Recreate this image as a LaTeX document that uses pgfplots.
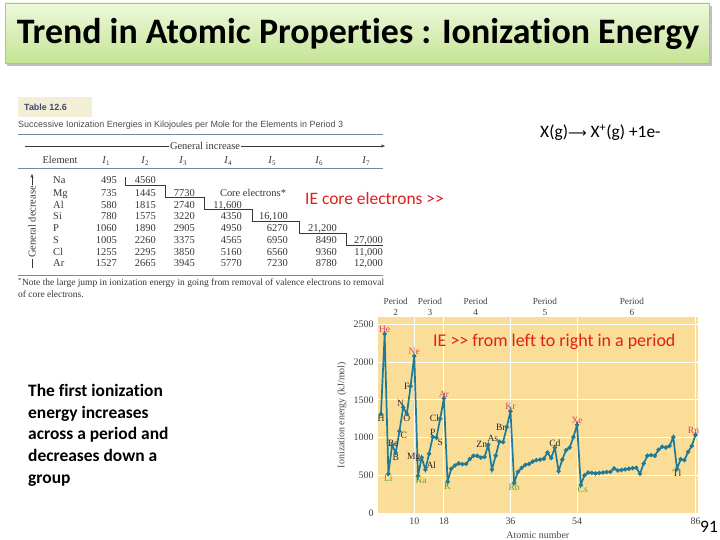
\documentclass[border=0pt]{standalone}
\usepackage{fontspec}
\setmainfont{Carlito}[Ligatures={NoCommon}]
\newfontfamily\serif{Liberation Serif}
\newfontfamily\sansf{Liberation Sans}
\newfontfamily\dejavu{DejaVu Sans}
\usepackage{pgfplots}
\usepackage{pgfplotstable}
\pgfplotsset{compat=1.18}
\usetikzlibrary{arrows.meta}
\definecolor{ieline}{RGB}{30,122,150}
\definecolor{chartbg}{RGB}{250,222,152}
\definecolor{noble}{RGB}{215,70,95}
\definecolor{alkali}{RGB}{110,160,50}
\definecolor{iered}{RGB}{225,30,25}
\definecolor{rulec}{RGB}{120,135,165}
\definecolor{tabtext}{RGB}{55,55,55}
\definecolor{tabhead}{RGB}{60,75,110}
\definecolor{tabbox}{RGB}{243,239,215}
\definecolor{titletop}{RGB}{238,248,220}
\definecolor{titlebot}{RGB}{196,228,148}

\pgfplotstableread{
Z IE
1 1312
2 2372
3 520
4 900
5 801
6 1086
7 1402
8 1314
9 1681
10 2081
11 496
12 738
13 578
14 787
15 1012
16 1000
17 1251
18 1521
19 419
20 590
21 633
22 659
23 651
24 653
25 717
26 762
27 760
28 737
29 745
30 906
31 579
32 762
33 947
34 941
35 1140
36 1351
37 403
38 549
39 600
40 640
41 652
42 684
43 702
44 710
45 720
46 804
47 731
48 868
49 558
50 709
51 834
52 869
53 1008
54 1170
55 376
56 503
57 538
58 534
59 527
60 533
61 540
62 545
63 547
64 593
65 566
66 573
67 581
68 589
69 597
70 603
71 524
72 659
73 761
74 770
75 760
76 840
77 880
78 870
79 890
80 1007
81 589
82 716
83 703
84 812
85 890
86 1037
}\iedata

\begin{document}
\begin{tikzpicture}[x=1bp,y=1bp]
\path[use as bounding box, fill=white] (0,0) rectangle (720,540);

% ---- title banner ----
\fill[black!25] (7,474) rectangle (712,534);
\shade[top color=titletop, bottom color=titlebot, draw=green!30!gray!60, line width=0.6bp] (5,477) rectangle (709,537);
\node at (358,506) {\fontsize{36}{42}\selectfont\bfseries Trend in Atomic Properties : Ionization Energy};

% ---- table ----
\node[fill=tabbox, minimum width=74bp, minimum height=20bp, anchor=north west, inner sep=0] at (18,443) {};
\node[anchor=west, inner sep=0, text=tabhead] at (24,432.5) {\sansf\bfseries\fontsize{9}{10}\selectfont Table 12.6};
\node[anchor=west, inner sep=0, text=black!70] at (18,415) {\sansf\fontsize{9}{10}\selectfont Successive Ionization Energies in Kilojoules per Mole for the Elements in Period 3};
\draw[rulec, line width=0.8bp] (18,406) -- (383,406);
\draw[tabtext, line width=0.5bp, -{Stealth[length=4bp,width=3bp]}] (25,394) -- (385,394);
\node[fill=white, inner sep=1bp, text=tabtext] at (205,394) {\serif\fontsize{10.5}{12}\selectfont General increase};
\begin{scope}[every node/.style={text=tabtext, inner sep=0, font=\serif\fontsize{10.5}{12}\selectfont}]
\node[anchor=base] at (60,376.5) {Element};
\foreach \x/\n in {106/1,145/2,183/3,228/4,272/5,319/6,366/7}
  \node[anchor=base] at (\x,376.5) {\textit{I}\raisebox{-0.35ex}{\fontsize{7}{8}\selectfont\n}};
\end{scope}
\draw[rulec, line width=1bp] (18,371) -- (383,371);
\begin{scope}[every node/.style={text=tabtext, inner sep=0, font=\serif\fontsize{10.5}{12}\selectfont}]
\foreach \y/\el in {356.3/Na,343.8/Mg,331.8/Al,320.3/Si,308.3/P,296.3/S,284.8/Cl,273.3/Ar}
  \node[anchor=base west] at (53,\y) {\el};
\node[anchor=base east] at (117,356.3) {495};
\node[anchor=base east] at (156,356.3) {4560};
\node[anchor=base east] at (117,343.8) {735};
\node[anchor=base east] at (156,343.8) {1445};
\node[anchor=base east] at (195,343.8) {7730};
\node[anchor=base] at (253,343.8) {Core electrons*};
\node[anchor=base east] at (117,331.8) {580};
\node[anchor=base east] at (156,331.8) {1815};
\node[anchor=base east] at (195,331.8) {2740};
\node[anchor=base east] at (242,331.8) {11,600};
\node[anchor=base east] at (117,320.3) {780};
\node[anchor=base east] at (156,320.3) {1575};
\node[anchor=base east] at (195,320.3) {3220};
\node[anchor=base east] at (242,320.3) {4350};
\node[anchor=base east] at (288,320.3) {16,100};
\node[anchor=base east] at (117,308.3) {1060};
\node[anchor=base east] at (156,308.3) {1890};
\node[anchor=base east] at (195,308.3) {2905};
\node[anchor=base east] at (242,308.3) {4950};
\node[anchor=base east] at (288,308.3) {6270};
\node[anchor=base east] at (337,308.3) {21,200};
\node[anchor=base east] at (117,296.3) {1005};
\node[anchor=base east] at (156,296.3) {2260};
\node[anchor=base east] at (195,296.3) {3375};
\node[anchor=base east] at (242,296.3) {4565};
\node[anchor=base east] at (288,296.3) {6950};
\node[anchor=base east] at (337,296.3) {8490};
\node[anchor=base east] at (383,296.3) {27,000};
\node[anchor=base east] at (117,284.8) {1255};
\node[anchor=base east] at (156,284.8) {2295};
\node[anchor=base east] at (195,284.8) {3850};
\node[anchor=base east] at (242,284.8) {5160};
\node[anchor=base east] at (288,284.8) {6560};
\node[anchor=base east] at (337,284.8) {9360};
\node[anchor=base east] at (383,284.8) {11,000};
\node[anchor=base east] at (117,273.3) {1527};
\node[anchor=base east] at (156,273.3) {2665};
\node[anchor=base east] at (195,273.3) {3945};
\node[anchor=base east] at (242,273.3) {5770};
\node[anchor=base east] at (288,273.3) {7230};
\node[anchor=base east] at (337,273.3) {8780};
\node[anchor=base east] at (383,273.3) {12,000};
\end{scope}
\draw[tabtext, line width=0.6bp] (125.7,363) -- (125.7,355) -- (165.7,355) -- (165.7,342.7) -- (204,342.7) -- (204,330.7) -- (252,330.7) -- (252,318.3) -- (299,318.3) -- (299,306.7) -- (346.7,306.7) -- (346.7,295) -- (383,295);
\draw[rulec, line width=0.8bp] (18,265) -- (383,265);
\node[anchor=base west, inner sep=0, text=tabtext] at (18,254) {\serif\fontsize{9.5}{10}\selectfont\textsuperscript{*}Note the large jump in ionization energy in going from removal of valence electrons to removal};
\node[anchor=base west, inner sep=0, text=tabtext] at (18,242.3) {\serif\fontsize{9.5}{10}\selectfont of core electrons.};
\draw[tabtext, line width=0.5bp, -{Stealth[length=4bp,width=3bp]}] (32,272) -- (32,366);
\node[fill=white, inner sep=1bp, rotate=90, text=tabtext] at (32,318) {\serif\fontsize{10.5}{12}\selectfont General decrease};

% ---- slide texts ----
\node[anchor=west, inner sep=0, text=iered] at (305,341) {\fontsize{17.5}{20}\selectfont IE core electrons {>}{>}};
\node[anchor=west, inner sep=0] at (540,407) {\fontsize{17.5}{20}\selectfont X(g){\dejavu\fontsize{13}{14}\selectfont ⟶} X\textsuperscript{+}(g) +1e-};
\foreach \y/\t in {143.5/The first ionization,121.7/energy increases,100/across a period and,78.2/decreases down a,56.5/group}
  \node[anchor=base west, inner sep=0] at (28,\y) {\fontsize{17.5}{20}\selectfont\bfseries \t};

% ---- chart ----
\begin{axis}[
  at={(378bp,26.7bp)}, anchor=south west,
  width=319.7bp, height=196.6bp, scale only axis,
  xmin=0.2, xmax=86.6, ymin=0, ymax=2600,
  clip=false,
  axis background/.style={fill=chartbg},
  axis line style={draw=none},
  major tick length=0pt,
  xtick={10,18,36,54,86},
  ytick={0,500,1000,1500,2000,2500},
  grid=major,
  major grid style={white, line width=1bp},
  /pgf/number format/assume math mode=true,
  /pgf/number format/1000 sep={},
  tick label style={font=\serif\fontsize{10}{12}\selectfont, text=black!75},
  yticklabel style={xshift=-1bp},
  xticklabel style={yshift=-1bp},
  xlabel={Atomic number},
  ylabel={Ionization energy (kJ/mol)},
  every axis x label/.style={at={(axis description cs:0.5,-0.112)}, anchor=center, font=\serif\fontsize{10}{12}\selectfont, text=black!70},
  every axis y label/.style={at={(axis description cs:-0.113,0.5)}, anchor=center, rotate=90, font=\serif\fontsize{10}{12}\selectfont, text=black!70},
]
\addplot[ieline, line width=1.7bp, mark=*, mark size=1.2bp, mark options={fill=ieline, draw=ieline}] table[x=Z, y=IE] {\iedata};

\begin{scope}[every node/.style={font=\serif\fontsize{9.6}{10}\selectfont, inner sep=1bp, text=black!85}]
% noble gases
\node[anchor=south, text=noble] at (axis cs:2,2372) {He};
\node[anchor=south, text=noble] at (axis cs:10,2081) {Ne};
\node[anchor=south, text=noble] at (axis cs:18,1521) {Ar};
\node[anchor=south, text=noble] at (axis cs:36,1351) {Kr};
\node[anchor=south, text=noble] at (axis cs:54,1170) {Xe};
\node[anchor=south, text=noble, xshift=-2bp] at (axis cs:86,1037) {Rn};
% alkali metals
\node[anchor=north, text=alkali] at (axis cs:3,520) {Li};
\node[anchor=north, text=alkali, xshift=3bp] at (axis cs:11,496) {Na};
\node[anchor=north, text=alkali] at (axis cs:19,419) {K};
\node[anchor=north, text=alkali] at (axis cs:37,403) {Rb};
\node[anchor=north, text=alkali, xshift=2bp] at (axis cs:55,376) {Cs};
% others
\node[anchor=north] at (axis cs:1,1312) {H};
\node[anchor=south, xshift=1bp, yshift=-3bp] at (axis cs:4,900) {Be};
\node[anchor=north] at (axis cs:5,801) {B};
\node[anchor=north west] at (axis cs:6,1086) {C};
\node[anchor=south east, xshift=2bp] at (axis cs:7,1402) {N};
\node[anchor=north] at (axis cs:8,1314) {O};
\node[anchor=east] at (axis cs:9,1681) {F};
\node[anchor=east] at (axis cs:12,738) {Mg};
\node[anchor=south west] at (axis cs:13,578) {Al};
\node[anchor=south] at (axis cs:15,1012) {P};
\node[anchor=north west] at (axis cs:16,1000) {S};
\node[anchor=east] at (axis cs:17,1251) {Cl};
\node[anchor=east] at (axis cs:30,906) {Zn};
\node[anchor=east, yshift=3bp] at (axis cs:33,947) {As};
\node[anchor=east] at (axis cs:35,1140) {Br};
\node[anchor=south] at (axis cs:48,868) {Cd};
\node[anchor=north] at (axis cs:81,589) {Tl};
\end{scope}

\begin{scope}[every node/.style={font=\serif\fontsize{9.3}{11}\selectfont, align=center, anchor=south, inner sep=1bp, text=black!75}]
\node at (axis cs:5.0,2600) {Period\\2};
\node at (axis cs:14.25,2600) {Period\\3};
\node at (axis cs:26.6,2600) {Period\\4};
\node at (axis cs:45.3,2600) {Period\\5};
\node at (axis cs:68.8,2600) {Period\\6};
\end{scope}
\end{axis}

\node[anchor=west, inner sep=0, text=iered] at (433,198) {\fontsize{18}{20}\selectfont IE {>}{>} from left to right in a period};
\node[anchor=west, inner sep=0] at (700,13) {\fontsize{17.5}{20}\selectfont 91};
\end{tikzpicture}
\end{document}
